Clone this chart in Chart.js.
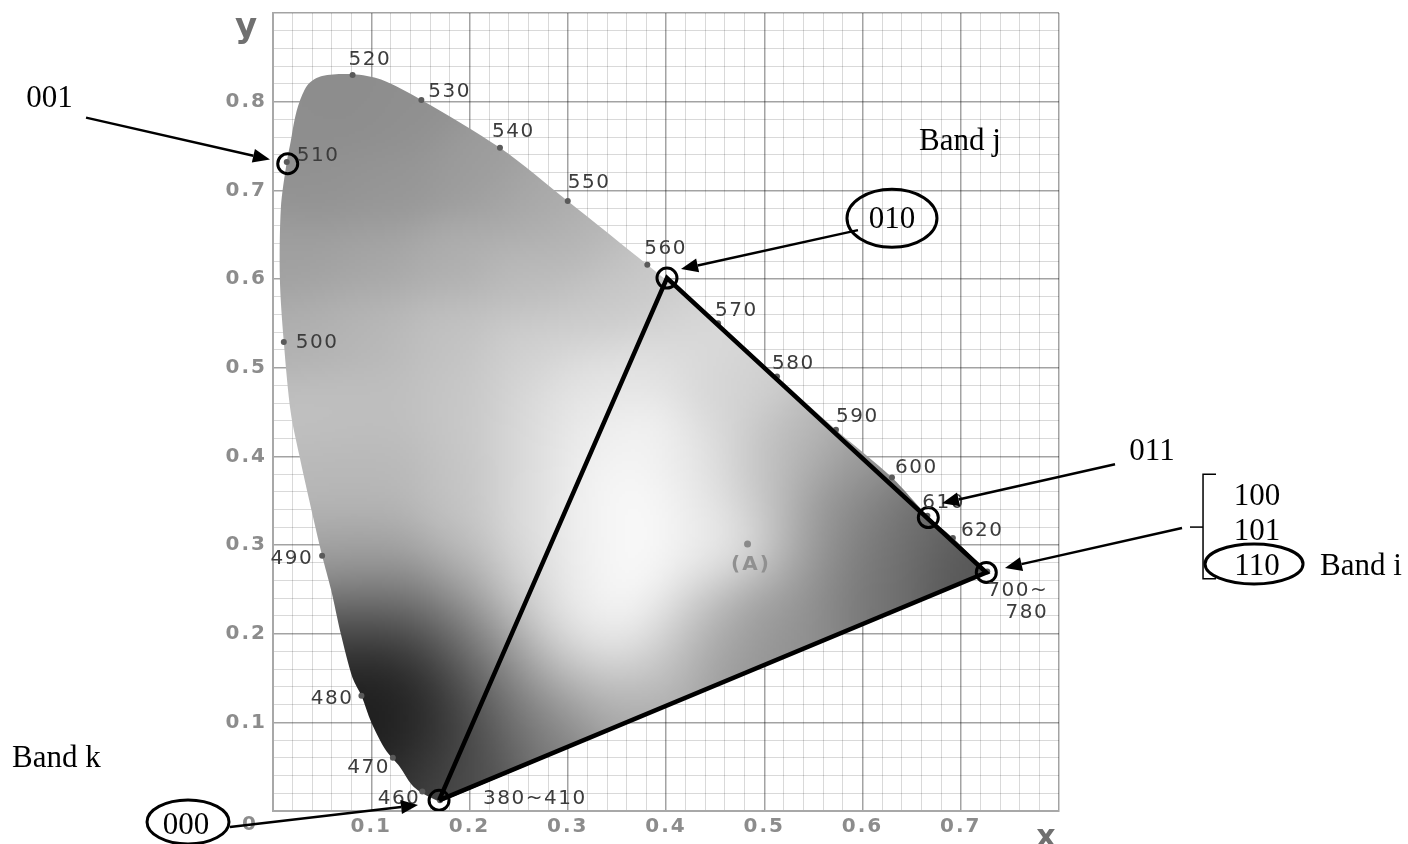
<!DOCTYPE html>
<html>
<head>
<meta charset="utf-8">
<script src="https://cdn.jsdelivr.net/npm/chart.js@4.4.1/dist/chart.umd.min.js"></script>
<style>
  html, body { margin: 0; padding: 0; background: #fff; }
  canvas { display: block; }
</style>
</head>
<body>
<canvas id="cie" width="1408" height="844"></canvas>
<script>
// spectral locus, violet end -> up the left side -> 700~780
const locusX = [0.170, 0.152, 0.141, 0.129, 0.114, 0.100, 0.090, 0.081, 0.069, 0.059, 0.050, 0.037, 0.027, 0.018, 0.011, 0.007, 0.008, 0.014, 0.018, 0.022, 0.027, 0.036, 0.050, 0.081, 0.110, 0.151, 0.231, 0.300, 0.381, 0.453, 0.513, 0.573, 0.630, 0.666, 0.692, 0.727];
const locusY = [0.010, 0.020, 0.030, 0.050, 0.070, 0.100, 0.130, 0.150, 0.200, 0.250, 0.288, 0.350, 0.400, 0.450, 0.529, 0.600, 0.680, 0.732, 0.755, 0.780, 0.800, 0.820, 0.829, 0.831, 0.825, 0.802, 0.748, 0.688, 0.616, 0.550, 0.490, 0.430, 0.376, 0.333, 0.308, 0.270];

// wavelength marks (nm)
const waveLabels = ['380~410', '460', '470', '480', '490', '500', '510', '520', '530', '540', '550', '560', '570', '580', '590', '600', '610', '620', '700~|780'];
const waveX = [0.170, 0.152, 0.122, 0.090, 0.050, 0.011, 0.014, 0.081, 0.151, 0.231, 0.300, 0.381, 0.453, 0.513, 0.573, 0.630, 0.666, 0.692, 0.727];
const waveY = [0.012, 0.022, 0.060, 0.130, 0.288, 0.529, 0.732, 0.830, 0.802, 0.748, 0.688, 0.616, 0.550, 0.490, 0.430, 0.376, 0.333, 0.308, 0.270];

// white point (A)
const whiteX = [0.483];
const whiteY = [0.301];

// triangle 000 -> 010 -> 110 -> 000
const triX = [0.169, 0.401, 0.726, 0.169];
const triY = [0.012, 0.601, 0.269, 0.012];

// circled code points
const codeLabels = ['000', '010', '110', '011', '001'];
const codeX = [0.169, 0.401, 0.726, 0.667, 0.015];
const codeY = [0.012, 0.601, 0.269, 0.331, 0.730];

const xTickLabels = ['0.1', '0.2', '0.3', '0.4', '0.5', '0.6', '0.7'];
const yTickLabels = ['0.1', '0.2', '0.3', '0.4', '0.5', '0.6', '0.7', '0.8'];

// side notes
const notes = ['001', '010', '011', '100', '101', '110', '000', 'Band i', 'Band j', 'Band k'];

// ---- layout / style tables ----
// label offset from its dot in px, and alignment
const waveLabelPos = [[43, -2, 'left'], [-2, 7, 'right'], [-3, 10, 'right'], [-8, 3, 'right'], [-9, 3, 'right'],
  [12, 1, 'left'], [10, -6, 'left'], [-4, -15, 'left'], [7, -8, 'left'], [-8, -16, 'left'], [0, -18, 'left'],
  [-3, -16, 'left'], [-3, -13, 'left'], [-5, -13, 'left'], [0, -13, 'left'], [3, -10, 'left'], [-5, -13, 'left'],
  [8, -7, 'left'], [61, 19, 'right']];
// note anchors in data units (outside the axes too)
const notePos = [[-0.2275, 0.8034, 'center'], [0.6300, 0.6663, 'center'], [0.8947, 0.4045, 'center'],
  [1.0015, 0.3539, 'center'], [1.0015, 0.3146, 'center'], [1.0015, 0.2753, 'center'], [-0.0885, -0.0169, 'center'],
  [1.0656, 0.2753, 'left'], [0.6575, 0.7551, 'left'], [-0.2656, 0.0584, 'left']];
const ovals = [[0.6300, 0.6685, 45, 29], [0.9985, 0.2787, 49, 20], [-0.0865, -0.0124, 41, 22]];
const arrows = [[-0.1903, 0.7820, -0.0031, 0.7348], [0.5954, 0.6551, 0.4153, 0.6112], [0.8570, 0.3910, 0.6809, 0.3472],
  [0.9252, 0.3191, 0.7450, 0.2742], [-0.0438, -0.0180, 0.1476, 0.0067]];
const braceLines = [[[0.9598, 0.3798], [0.9466, 0.3798], [0.9466, 0.2618], [0.9598, 0.2618]], [[0.9333, 0.3202], [0.9466, 0.3202]]];

// gray shading of the horseshoe (x, y, gray level)
const shadeStops = [
  [0.03, 0.78, 0x8e], [0.08, 0.80, 0x8c], [0.13, 0.78, 0x90], [0.05, 0.70, 0x92], [0.12, 0.70, 0x96], [0.20, 0.72, 0x9c], [0.26, 0.68, 0xa8], [0.31, 0.64, 0xb4], [0.36, 0.60, 0xc4], [0.40, 0.57, 0xd0],
  [0.03, 0.62, 0xa0], [0.10, 0.62, 0xa6], [0.18, 0.62, 0xae], [0.26, 0.60, 0xbc], [0.33, 0.56, 0xcc], [0.44, 0.53, 0xda], [0.49, 0.48, 0xd0],
  [0.04, 0.54, 0xb0], [0.10, 0.54, 0xb8], [0.18, 0.54, 0xc2], [0.26, 0.52, 0xd0], [0.32, 0.48, 0xe2], [0.38, 0.50, 0xe4], [0.46, 0.46, 0xd8], [0.53, 0.43, 0xbc],
  [0.05, 0.45, 0xc0], [0.11, 0.45, 0xbe], [0.19, 0.45, 0xc6], [0.26, 0.44, 0xd8], [0.32, 0.43, 0xf0], [0.38, 0.42, 0xf4], [0.44, 0.40, 0xe6], [0.50, 0.40, 0xc8], [0.55, 0.40, 0xaa], [0.59, 0.38, 0x94],
  [0.06, 0.37, 0xb8], [0.11, 0.37, 0xb8], [0.19, 0.36, 0xc4], [0.26, 0.35, 0xdc], [0.32, 0.34, 0xf4], [0.38, 0.34, 0xfa], [0.44, 0.34, 0xea], [0.50, 0.35, 0xc4], [0.55, 0.33, 0x9c], [0.60, 0.33, 0x84], [0.65, 0.32, 0x6c],
  [0.07, 0.30, 0xa8], [0.12, 0.30, 0xac], [0.19, 0.30, 0xc0], [0.26, 0.29, 0xdc], [0.32, 0.28, 0xf2], [0.38, 0.28, 0xfc], [0.44, 0.28, 0xec], [0.48, 0.30, 0xf0], [0.52, 0.29, 0xb8], [0.57, 0.29, 0x90], [0.62, 0.29, 0x74], [0.68, 0.28, 0x5c], [0.72, 0.27, 0x54],
  [0.08, 0.25, 0x80], [0.13, 0.25, 0x7c], [0.19, 0.25, 0xa0], [0.25, 0.24, 0xcc], [0.31, 0.23, 0xf0], [0.37, 0.23, 0xfc], [0.43, 0.23, 0xd4], [0.49, 0.24, 0xa8], [0.55, 0.25, 0x88], [0.61, 0.26, 0x70],
  [0.08, 0.20, 0x44], [0.13, 0.20, 0x48], [0.18, 0.20, 0x68], [0.23, 0.19, 0x9c], [0.29, 0.19, 0xd8], [0.35, 0.19, 0xf4], [0.40, 0.19, 0xe0], [0.45, 0.20, 0xa8], [0.50, 0.21, 0x8c],
  [0.09, 0.15, 0x22], [0.13, 0.15, 0x24], [0.18, 0.15, 0x44], [0.23, 0.15, 0x78], [0.28, 0.15, 0xb0], [0.34, 0.15, 0xcc], [0.40, 0.16, 0xb0], [0.45, 0.17, 0x90],
  [0.10, 0.11, 0x18], [0.14, 0.11, 0x20], [0.19, 0.11, 0x40], [0.24, 0.11, 0x70], [0.30, 0.11, 0x94], [0.36, 0.12, 0xa4],
  [0.12, 0.07, 0x20], [0.16, 0.07, 0x30], [0.21, 0.07, 0x50], [0.27, 0.08, 0x78],
  [0.15, 0.03, 0x38], [0.19, 0.035, 0x58]
];

const pts = (xs, ys) => xs.map((v, i) => ({ x: v, y: ys[i] }));
const isMajor = v => Math.abs(v * 10 - Math.round(v * 10)) < 1e-6;

function shadePattern(chart) {
  if (chart.$shade) return chart.$shade;
  const xs = chart.scales.x, ys = chart.scales.y, area = chart.chartArea;
  const step = 3, s2 = 2 * 0.035 * 0.035;
  const w = Math.ceil((area.right - area.left) / step), h = Math.ceil((area.bottom - area.top) / step);
  const small = document.createElement('canvas');
  small.width = w; small.height = h;
  const sctx = small.getContext('2d');
  const img = sctx.createImageData(w, h);
  for (let j = 0; j < h; j++) {
    const vy = ys.getValueForPixel(area.top + (j + 0.5) * step);
    for (let i = 0; i < w; i++) {
      const vx = xs.getValueForPixel(area.left + (i + 0.5) * step);
      let sw = 0, sg = 0;
      for (const [sx, sy, g] of shadeStops) {
        const wt = Math.exp(-((vx - sx) ** 2 + (vy - sy) ** 2) / s2) + 1e-12;
        sw += wt; sg += wt * g;
      }
      const g = sg / sw, k = (j * w + i) * 4;
      img.data[k] = img.data[k + 1] = img.data[k + 2] = g;
      img.data[k + 3] = 255;
    }
  }
  sctx.putImageData(img, 0, 0);
  const big = document.createElement('canvas');
  big.width = chart.width; big.height = chart.height;
  const bctx = big.getContext('2d');
  bctx.imageSmoothingEnabled = true;
  bctx.drawImage(small, area.left, area.top, w * step, h * step);
  chart.$shade = chart.ctx.createPattern(big, 'no-repeat');
  return chart.$shade;
}

function arrow(ctx, x0, y0, x1, y1) {
  const a = Math.atan2(y1 - y0, x1 - x0), len = 17, half = 7;
  const bx = x1 - len * Math.cos(a), by = y1 - len * Math.sin(a);
  ctx.beginPath(); ctx.moveTo(x0, y0); ctx.lineTo(bx, by); ctx.stroke();
  ctx.beginPath(); ctx.moveTo(x1, y1);
  ctx.lineTo(bx + half * Math.sin(a), by - half * Math.cos(a));
  ctx.lineTo(bx - half * Math.sin(a), by + half * Math.cos(a));
  ctx.closePath(); ctx.fill();
}

const spacing = {
  id: 'spacing',
  beforeDraw(chart) { chart.ctx.letterSpacing = '2px'; }
};

const notesPlugin = {
  id: 'notes',
  afterDraw(chart) {
    const ctx = chart.ctx, xs = chart.scales.x, ys = chart.scales.y;
    const px = v => xs.getPixelForValue(v), py = v => ys.getPixelForValue(v);
    ctx.save();

    // wavelength labels
    ctx.letterSpacing = '1.5px';
    ctx.font = '20px "DejaVu Sans"';
    ctx.fillStyle = '#3c3c3c';
    ctx.textBaseline = 'middle';
    waveLabels.forEach((t, i) => {
      const [dx, dy, al] = waveLabelPos[i];
      ctx.textAlign = al;
      t.split('|').forEach((line, n) => ctx.fillText(line, px(waveX[i]) + dx, py(waveY[i]) + dy + n * 22));
    });

    // axis letters, origin and (A)
    ctx.fillStyle = '#8c8c8c';
    ctx.textAlign = 'center';
    ctx.letterSpacing = '2px';
    ctx.font = 'bold 20px "DejaVu Sans"';
    ctx.fillText('0', px(-0.0234), py(-0.0157));
    ctx.fillStyle = '#909090';
    ctx.fillText('(A)', px(0.4865), py(0.2775));
    ctx.letterSpacing = '0px';
    ctx.fillStyle = '#707070';
    ctx.textBaseline = 'alphabetic';
    ctx.font = 'bold 34px "DejaVu Sans"';
    ctx.fillText('y', px(-0.0275), py(0.873));
    ctx.font = 'bold 30px "DejaVu Sans"';
    ctx.fillText('x', px(0.7868), py(-0.0393));

    // notes, ovals, arrows, brace
    ctx.fillStyle = '#000';
    ctx.strokeStyle = '#000';
    ctx.font = '31px "Liberation Serif"';
    ctx.textBaseline = 'middle';
    notes.forEach((t, i) => {
      const [x, y, al] = notePos[i];
      ctx.textAlign = al;
      ctx.fillText(t, px(x), py(y));
    });
    ctx.lineWidth = 3;
    ovals.forEach(([x, y, rx, ry]) => {
      ctx.beginPath(); ctx.ellipse(px(x), py(y), rx, ry, 0, 0, Math.PI * 2); ctx.stroke();
    });
    ctx.lineWidth = 2.5;
    arrows.forEach(([x0, y0, x1, y1]) => arrow(ctx, px(x0), py(y0), px(x1), py(y1)));
    ctx.lineWidth = 1.5;
    braceLines.forEach(line => {
      ctx.beginPath();
      line.forEach(([x, y], n) => n ? ctx.lineTo(px(x), py(y)) : ctx.moveTo(px(x), py(y)));
      ctx.stroke();
    });
    ctx.restore();
  }
};

const tickFont = { family: 'DejaVu Sans', size: 20, weight: 'bold' };
const gridOpts = {
  drawTicks: false,
  color: c => isMajor(c.tick.value) ? 'rgba(0,0,0,0.36)' : 'rgba(0,0,0,0.15)',
  lineWidth: c => isMajor(c.tick.value) ? 1.5 : 1
};

new Chart(document.getElementById('cie'), {
  type: 'line',
  data: {
    datasets: [
      {
        label: 'codes', order: 1, data: pts(codeX, codeY), showLine: false,
        pointRadius: 10, pointBorderWidth: 3, pointBorderColor: '#000', pointBackgroundColor: 'rgba(0,0,0,0)'
      },
      {
        label: 'triangle', order: 2, data: pts(triX, triY), borderColor: '#000', borderWidth: 4.5,
        pointRadius: 0, tension: 0, fill: false
      },
      {
        label: 'A', order: 3, data: pts(whiteX, whiteY), showLine: false,
        pointRadius: 3.5, pointBorderWidth: 0, pointBackgroundColor: '#8a8a8a'
      },
      {
        label: 'wavelengths', order: 4, data: pts(waveX, waveY), showLine: false,
        pointRadius: 3, pointBorderWidth: 0, pointBackgroundColor: '#5a5a5a'
      },
      {
        label: 'locus', order: 5, data: pts(locusX, locusY), borderColor: 'rgba(0,0,0,0)', borderWidth: 1,
        pointRadius: 0, tension: 0.3, fill: 'shape',
        backgroundColor: c => c.chart.chartArea ? shadePattern(c.chart) : '#aaa'
      }
    ]
  },
  options: {
    responsive: false,
    animation: false,
    events: [],
    layout: { padding: { left: 0, right: 349, top: 10, bottom: 0 } },
    plugins: { legend: { display: false }, tooltip: { enabled: false } },
    scales: {
      x: {
        type: 'linear', min: 0, max: 0.8, z: 1,
        afterFit: s => { s.height = 33; s.paddingLeft = 0; s.paddingRight = 0; },
        ticks: {
          stepSize: 0.02, autoSkip: false, maxRotation: 0, padding: 4, color: '#8c8c8c', font: tickFont,
          callback: v => (isMajor(v) && xTickLabels.includes(v.toFixed(1))) ? v.toFixed(1) : ''
        },
        grid: gridOpts,
        border: { color: '#a8a8a8', width: 2 }
      },
      y: {
        type: 'linear', min: 0, max: 0.9, z: 1,
        afterFit: s => { s.width = 273; s.paddingTop = 0; s.paddingBottom = 0; },
        ticks: {
          stepSize: 0.02, autoSkip: false, padding: 6, color: '#8c8c8c', font: tickFont,
          callback: v => (isMajor(v) && yTickLabels.includes(v.toFixed(1))) ? v.toFixed(1) : ''
        },
        grid: gridOpts,
        border: { color: '#a8a8a8', width: 2 }
      }
    }
  },
  plugins: [spacing, notesPlugin]
});
</script>
</body>
</html>
